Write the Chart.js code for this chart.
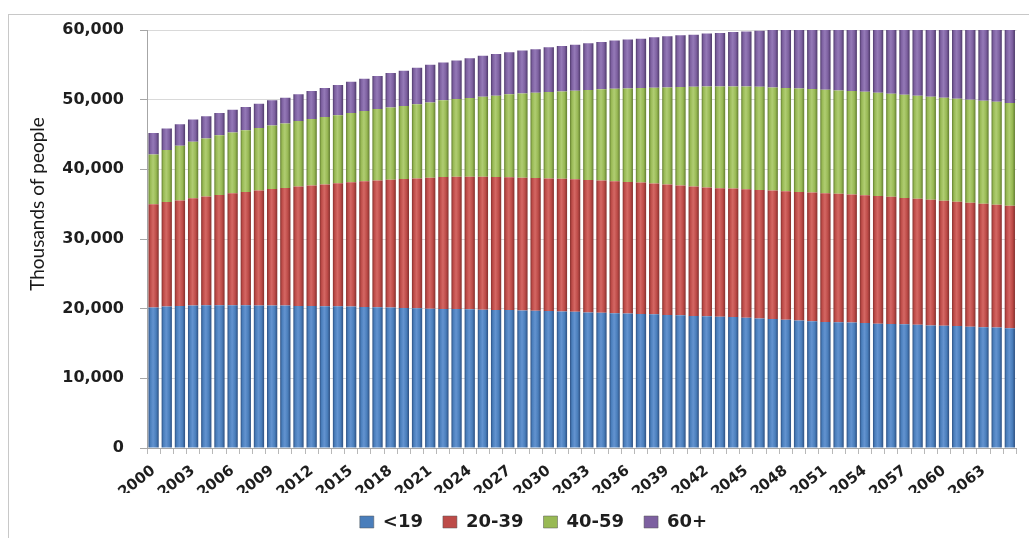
<!DOCTYPE html>
<html>
<head>
<meta charset="utf-8">
<script src="https://cdn.jsdelivr.net/npm/chart.js@4.4.1/dist/chart.umd.min.js"></script>
<style>
  html, body { margin: 0; padding: 0; background: #fff; }
  canvas { display: block; }
</style>
</head>
<body>
<canvas id="canvas" width="1029" height="538"></canvas>
<script>
var years = [
    '2000', '2001', '2002', '2003', '2004', '2005', '2006', '2007', '2008', '2009',
    '2010', '2011', '2012', '2013', '2014', '2015', '2016', '2017', '2018', '2019',
    '2020', '2021', '2022', '2023', '2024', '2025', '2026', '2027', '2028', '2029',
    '2030', '2031', '2032', '2033', '2034', '2035', '2036', '2037', '2038', '2039',
    '2040', '2041', '2042', '2043', '2044', '2045', '2046', '2047', '2048', '2049',
    '2050', '2051', '2052', '2053', '2054', '2055', '2056', '2057', '2058', '2059',
    '2060', '2061', '2062', '2063', '2064', '2065'
];
// only every third year gets a label on the axis
var shownYears = ['2000', '2003', '2006', '2009', '2012', '2015', '2018', '2021', '2024', '2027', '2030',
    '2033', '2036', '2039', '2042', '2045', '2048', '2051', '2054', '2057', '2060', '2063'];
var yTicks = [0, 10000, 20000, 30000, 40000, 50000, 60000];

var under19 = [
    20150, 20300, 20400, 20450, 20500, 20500, 20500, 20500, 20450, 20450,
    20450, 20400, 20400, 20350, 20350, 20300, 20250, 20200, 20150, 20100,
    20050, 20000, 19950, 19950, 19900, 19850, 19800, 19800, 19750, 19700,
    19650, 19600, 19550, 19450, 19400, 19350, 19300, 19250, 19200, 19100,
    19050, 18950, 18900, 18850, 18800, 18700, 18600, 18500, 18400, 18300,
    18200, 18100, 18050, 18000, 17950, 17850, 17800, 17750, 17700, 17600,
    17550, 17500, 17400, 17350, 17300, 17200
];
var age20to39 = [
    14850, 15000, 15120, 15410, 15600, 15830, 16070, 16260, 16500, 16740,
    16880, 17120, 17270, 17460, 17650, 17840, 18040, 18180, 18370, 18520,
    18620, 18800, 18950, 19000, 19050, 19100, 19100, 19050, 19050, 19050,
    19050, 19050, 19020, 19030, 18980, 18940, 18890, 18850, 18750, 18710,
    18620, 18570, 18480, 18450, 18440, 18440, 18450, 18450, 18460, 18460,
    18470, 18470, 18430, 18380, 18340, 18340, 18250, 18150, 18060, 18020,
    17930, 17830, 17790, 17700, 17600, 17560
];
var age40to59 = [
    7140, 7470, 7860, 8090, 8330, 8570, 8720, 8860, 9000, 9100,
    9240, 9430, 9570, 9710, 9760, 9960, 10090, 10290, 10340, 10480,
    10660, 10800, 11000, 11150, 11290, 11480, 11670, 11910, 12100, 12250,
    12400, 12540, 12720, 12900, 13100, 13280, 13430, 13570, 13760, 13950,
    14140, 14340, 14500, 14600, 14660, 14760, 14810, 14810, 14810, 14860,
    14850, 14860, 14850, 14860, 14850, 14810, 14810, 14810, 14810, 14810,
    14810, 14810, 14810, 14810, 14810, 14760
];
var age60plus = [
    3060, 3100, 3100, 3190, 3190, 3200, 3280, 3330, 3480, 3610,
    3720, 3810, 4000, 4150, 4340, 4470, 4620, 4710, 4950, 5040,
    5240, 5400, 5430, 5520, 5710, 5860, 6000, 6050, 6150, 6240,
    6420, 6520, 6610, 6720, 6810, 6910, 7000, 7090, 7240, 7340,
    7430, 7470, 7600, 7670, 7800, 7900, 8040, 8240, 8410, 8530,
    8700, 8860, 9020, 9170, 9330, 9520, 9710, 9910, 10090, 10270,
    10450, 10640, 10810, 10980, 11160, 11380
];

var BAR_PCT = 0.78;

// old office style bars: dark edges, lighter middle
function bevel(dark, base, light) {
    return function(c) {
        if (c.type !== 'data' || !c.chart.chartArea) return base;
        var chart = c.chart;
        var xs = chart.scales.x;
        var x = xs.getPixelForValue(c.dataIndex);
        var half = (chart.chartArea.right - chart.chartArea.left) / years.length * BAR_PCT / 2;
        var g = chart.ctx.createLinearGradient(x - half, 0, x + half, 0);
        g.addColorStop(0, dark);
        g.addColorStop(0.18, base);
        g.addColorStop(0.45, light);
        g.addColorStop(0.75, base);
        g.addColorStop(1, dark);
        return g;
    };
}

var frame = {
    id: 'frame',
    beforeDraw: function(chart) {
        var ctx = chart.ctx;
        ctx.save();
        ctx.fillStyle = '#fff';
        ctx.fillRect(0, 0, chart.width, chart.height);
        ctx.strokeStyle = '#c8c8c8';
        ctx.lineWidth = 1;
        ctx.strokeRect(8.5, 14.5, chart.width + 20, chart.height + 20);
        ctx.restore();
    }
};

var yTitle = {
    id: 'yTitle',
    afterDraw: function(chart) {
        var ctx = chart.ctx;
        ctx.save();
        ctx.translate(38, 204);
        ctx.rotate(-Math.PI / 2);
        ctx.font = '19px Lato, "Liberation Sans", sans-serif';
        ctx.fillStyle = '#1a1a1a';
        ctx.textAlign = 'center';
        ctx.textBaseline = 'middle';
        ctx.fillText('Thousands of people', 0, 0);
        ctx.restore();
    }
};

window.onload = function() {
    var ctx = document.getElementById('canvas').getContext('2d');
    window.myBar = new Chart(ctx, {
        type: 'bar',
        data: {
            labels: years,
            datasets: [{
                label: '<19',
                data: under19,
                backgroundColor: bevel('#2d5082', '#4a7ebb', '#6393d0'),
                legendColor: '#4a7ebb'
            }, {
                label: '20-39',
                data: age20to39,
                backgroundColor: bevel('#86302d', '#bd4b48', '#d46763'),
                legendColor: '#bd4b48'
            }, {
                label: '40-59',
                data: age40to59,
                backgroundColor: bevel('#637e30', '#98b954', '#b0cd72'),
                legendColor: '#98b954'
            }, {
                label: '60+',
                data: age60plus,
                backgroundColor: bevel('#4e3a6a', '#7d60a0', '#9479b7'),
                legendColor: '#7d60a0'
            }]
        },
        options: {
            responsive: false,
            animation: false,
            events: [],
            layout: {
                padding: { top: 30, left: 48, right: 10, bottom: -3 }
            },
            datasets: {
                bar: {
                    categoryPercentage: 1,
                    barPercentage: BAR_PCT,
                    borderWidth: 0
                }
            },
            scales: {
                x: {
                    stacked: true,
                    grid: {
                        drawOnChartArea: false,
                        tickLength: 6,
                        color: '#b8b8b8'
                    },
                    border: { color: '#a6a6a6' },
                    ticks: {
                        autoSkip: false,
                        maxRotation: 38,
                        minRotation: 38,
                        padding: 8,
                        color: '#1e1e1e',
                        font: { family: '"DejaVu Sans", Verdana, sans-serif', size: 15, weight: 'bold' },
                        callback: function(value) {
                            var y = this.getLabelForValue(value);
                            return shownYears.indexOf(y) >= 0 ? y : '';
                        }
                    },
                    afterFit: function(scale) { scale.height = 45; }
                },
                y: {
                    stacked: true,
                    min: 0,
                    max: 60000,
                    grid: {
                        color: '#d9d9d9',
                        tickLength: 7,
                        tickColor: '#a6a6a6'
                    },
                    border: { color: '#a6a6a6' },
                    afterBuildTicks: function(scale) {
                        scale.ticks = yTicks.map(function(v) { return { value: v }; });
                    },
                    ticks: {
                        padding: 16,
                        color: '#1e1e1e',
                        font: { family: '"DejaVu Sans", Verdana, sans-serif', size: 16, weight: 'bold' },
                        callback: function(value) {
                            return value.toLocaleString('en-US');
                        }
                    },
                    afterFit: function(scale) { scale.width = 99; }
                }
            },
            plugins: {
                legend: {
                    position: 'bottom',
                    labels: {
                        boxWidth: 14,
                        boxHeight: 12,
                        padding: 20,
                        color: '#1e1e1e',
                        font: { family: '"DejaVu Sans", Verdana, sans-serif', size: 18, weight: 'bold' },
                        generateLabels: function(chart) {
                            return chart.data.datasets.map(function(ds, i) {
                                return {
                                    text: ds.label,
                                    fillStyle: ds.legendColor,
                                    strokeStyle: '#555',
                                    lineWidth: 0.5,
                                    fontColor: '#1e1e1e',
                                    hidden: false,
                                    datasetIndex: i
                                };
                            });
                        }
                    }
                },
                title: { display: false },
                tooltip: { enabled: false }
            }
        },
        plugins: [frame, yTitle]
    });
};
</script>
</body>
</html>
